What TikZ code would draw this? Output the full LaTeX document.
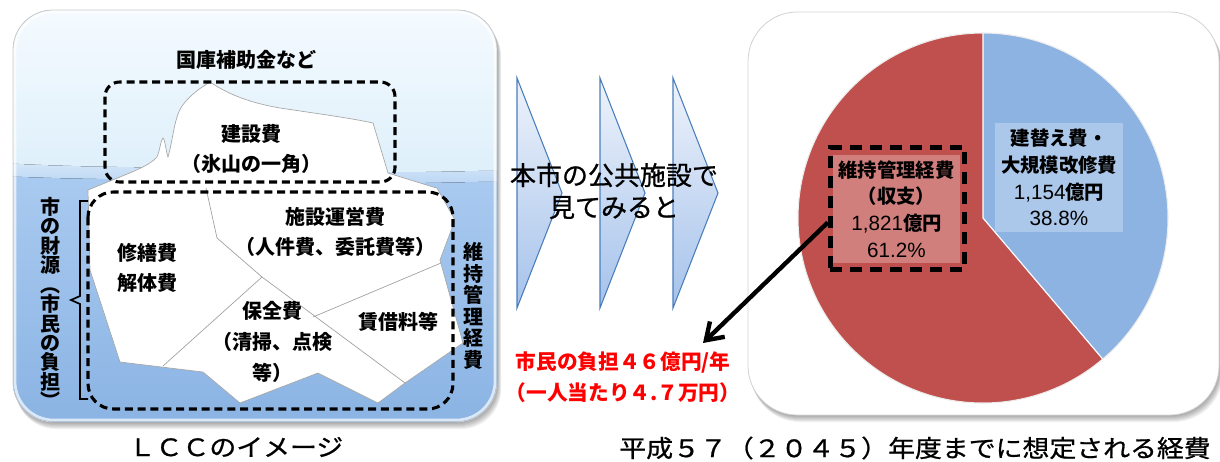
\documentclass[tikz,border=0pt]{standalone}
\usepackage{fontspec}
\setmainfont{Noto Sans CJK JP}
\newfontfamily\medium[FakeBold=0.8]{Noto Sans CJK JP}
\newfontfamily\digits{Liberation Sans}
\usetikzlibrary{arrows.meta}

\definecolor{skytop}{HTML}{F6FBFF}
\definecolor{skybot}{HTML}{DDEFFA}
\definecolor{foam}{HTML}{D3E6F8}
\definecolor{watertop}{HTML}{A9CAF0}
\definecolor{waterbot}{HTML}{8AB3E3}
\definecolor{chevtop}{HTML}{EEF3FB}
\definecolor{chevbot}{HTML}{A5C2EB}
\definecolor{chevline}{HTML}{4A7EBB}
\definecolor{pieblue}{HTML}{8DB3E2}
\definecolor{piered}{HTML}{C0504D}
\definecolor{burden}{HTML}{FF0000}

\tikzset{
  every node/.style={inner sep=0pt, align=center},
  icelabel/.style={font=\bfseries\fontsize{15}{23}\selectfont},
  vertlabel/.style={font=\bfseries\fontsize{15}{14.6}\selectfont},
  iceline/.style={draw=gray!75, line width=0.5pt},
  dashbox/.style={draw=black, line width=2.3pt, dash pattern=on 6pt off 3.6pt},
  piedash/.style={draw=black, line width=3.6pt, dash pattern=on 9pt off 6pt},
  chevron/.style={draw=chevline, line width=0.8pt, top color=chevtop, bottom color=chevbot},
  pielabel/.style={font=\bfseries\fontsize{14.5}{20}\selectfont},
  caption/.style={font=\medium\fontsize{18}{20}\selectfont, xscale=1.12},
}
\newcommand\num[1]{{\mdseries\digits\fontsize{15.5}{20}\selectfont #1}}

\begin{document}
\begin{tikzpicture}[x=0.75pt, y=-0.75pt]
\useasboundingbox (0,0) rectangle (1220,461);

% ---------- left panel: the iceberg ----------
\foreach \i in {1,...,7}
  \fill[black, opacity=0.055, rounded corners=30pt]
    ({13+0.4*\i},{10+\i}) rectangle ({497+0.6*\i},{422+\i});
\begin{scope}
  \clip[rounded corners=30pt] (13,10) rectangle (497,422);
  \fill[top color=skytop, bottom color=skybot] (0,0) rectangle (510,180);
  \fill[top color=foam, bottom color=watertop]
    (0,163) .. controls (120,170) and (250,166) .. (350,171)
    .. controls (420,174) and (470,170) .. (510,171) -- (510,200) -- (0,200) -- cycle;
  \fill[top color=watertop, bottom color=waterbot]
    (0,176) .. controls (120,182) and (250,178) .. (350,182)
    .. controls (420,185) and (470,181) .. (510,182) -- (510,430) -- (0,430) -- cycle;
\end{scope}
\draw[white, opacity=0.7, line width=2pt, rounded corners=29pt] (15,12) rectangle (495,420);
\draw[gray!40, line width=0.6pt, rounded corners=30pt] (13,10) rectangle (497,422);

% iceberg body
\path[fill=white, draw=gray!70, line width=0.5pt]
  (88,190) -- (110,181) .. controls (135,171) and (150,165) .. (157,157)
  .. controls (160,150) and (161,139) .. (163,138)
  .. controls (165,139) and (166,152) .. (168,157)
  .. controls (173,140) and (174,118) .. (182,106)
  .. controls (190,95) and (200,88) .. (210,82)
  .. controls (225,92) and (245,102) .. (280,108)
  .. controls (320,114) and (350,118) .. (373,123)
  -- (388,173) -- (433,187) -- (437,188) -- (455,220) -- (440,260)
  -- (463,343) -- (405,383) -- (378,403) -- (318,373) -- (240,403)
  -- (203,372) -- (120,362) -- (90,270) -- cycle;
\draw[iceline] (206,188) -- (217,238) -- (262,277) -- (163,366);
\draw[iceline] (262,277) -- (405,383);
\draw[iceline] (313,317) -- (441,263);

% dashed groupings
\draw[dashbox, rounded corners=11pt] (105,82) rectangle (395,182);
\draw[dashbox, rounded corners=19pt] (88,192) rectangle (453,409);

% brace for the city's own funds
\draw[line width=1.3pt] (88,201) -- (80,201) -- (80,296) -- (71,300) -- (80,304) -- (80,399) -- (88,399);

\node[font=\bfseries\fontsize{15}{18}\selectfont] (subsidy) at (246,60) {国庫補助金など};
\node[icelabel] (build) at (251,149) {建設費\\（氷山の一角）};
\node[vertlabel] (funds) at (50,303) {市\\の\\財\\源\\︵\\市\\民\\の\\負\\担\\︶};
\node[icelabel] (repair) at (147,268) {修繕費\\解体費};
\node[icelabel] (operate) at (335,232) {施設運営費\\（人件費、委託費等）};
\node[icelabel] (keep) at (272,342) {保全費\\（清掃、点検\\等）};
\node[icelabel] (rent) at (398,322) {賃借料等};
\node[font=\bfseries\fontsize{15}{16.2}\selectfont] (upkeep) at (473,306) {維\\持\\管\\理\\経\\費};

% ---------- middle: chevrons ----------
\foreach \x in {517,600,673}
  \path[chevron] (\x,78) -- ({\x+45},193) -- (\x,308) -- cycle;
\node[font=\medium\fontsize{19.5}{24}\selectfont] (look) at (614,191) {本市の公共施設で\\見てみると};
\node[text=burden, font=\bfseries\fontsize{15.5}{23}\selectfont] (burdentext) at (623,377)
  {市民の負担４６億円/年\\（一人当たり４.７万円）};
\coordinate (tip) at (703,343);

% ---------- right panel: pie chart ----------
\foreach \i in {1,...,7}
  \fill[black, opacity=0.055, rounded corners=37pt]
    ({748+0.4*\i},{12+\i}) rectangle ({1219+0.6*\i},{415+\i});
\fill[white, rounded corners=37pt] (748,12) rectangle (1219,415);
\draw[gray!35, line width=0.6pt, rounded corners=37pt] (748,12) rectangle (1219,415);

\begin{scope}[shift={(983,218)}, x=0.75pt, y=0.75pt]
  \fill[piered] (0,0) -- (90:185) arc[start angle=90, end angle=310.32, radius=185] -- cycle;
  \fill[pieblue] (0,0) -- (90:185) arc[start angle=90, end angle=-49.68, radius=185] -- cycle;
  \draw[white, line width=0.9pt] (90:185) -- (0,0) -- (-49.68:185);
  \draw[white!85!gray, line width=0.8pt] (0,0) circle[radius=185];
\end{scope}

\node[pielabel, fill=white, fill opacity=0.27, text opacity=1, minimum width=96pt, minimum height=81.75pt] (renew) at (1059,177.5)
  {建替え費・\\大規模改修費\\\num{1,154}億円\\\num{38.8\%}};
\node[pielabel, fill=white, fill opacity=0.27, text opacity=1, minimum width=95.25pt, minimum height=81pt] (upkeepshare) at (896.5,209)
  {維持管理経費\\（収支）\\\num{1,821}億円\\\num{61.2\%}};
\node[piedash, minimum width=101pt, minimum height=91.5pt] (mbox) at (897.5,208.5) {};

\draw[line width=3.3pt, -{Straight Barb[length=12pt, width=16pt]}] ([yshift=-10.5pt]mbox.west) -- (tip);

% ---------- captions ----------
\node[caption] (lcc) at (236,447) {ＬＣＣのイメージ};
\node[caption] (costs) at (915,448) {平成５７（２０４５）年度までに想定される経費};

\end{tikzpicture}
\end{document}
